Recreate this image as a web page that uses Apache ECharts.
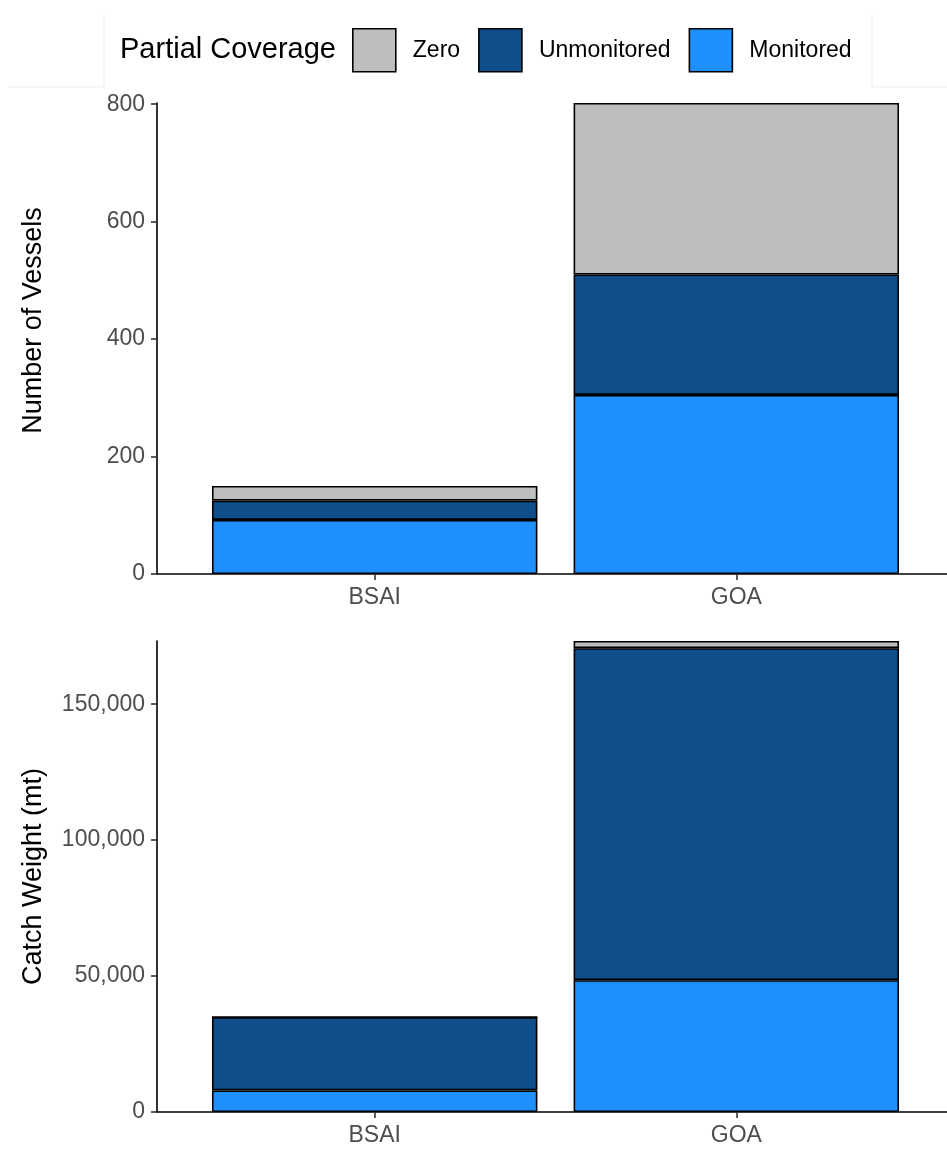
<!DOCTYPE html>
<html>
<head>
<meta charset="utf-8">
<script src="https://cdn.jsdelivr.net/npm/echarts@6/dist/echarts.min.js"></script>
<style>
  html, body { margin: 0; padding: 0; background: #fff; }
  #chart { width: 947px; height: 1151px; }
</style>
</head>
<body>
<div id="chart"></div>
<script>
    var regions = ['BSAI', 'GOA'];

    // number of vessels
    var vesselsMonitored = [92, 305];
    var vesselsUnmonitored = [33, 205];
    var vesselsZero = [25, 292];
    var vesselTicks = [0, 200, 400, 600, 800];

    // catch weight (mt)
    var catchMonitored = [7950, 48500];
    var catchUnmonitored = [26950, 122100];
    var catchZero = [0, 2650];
    var catchTicks = [0, 50000, 100000, 150000];

    var colors = { Zero: '#BEBEBE', Unmonitored: '#104E8B', Monitored: '#1E90FF' };
    var FONT = 'Liberation Sans, Arial';

    // grids 0 and 2 hold the bars (category axis, like ggplot's 0.6 expansion)
    // grids 1 and 3 are the full-width frames with the axis lines and y labels
    function barSeries(name, vals, g) {
        return {
            name: name,
            type: 'bar',
            stack: 'cov' + g,
            xAxisIndex: g,
            yAxisIndex: g,
            barWidth: '90%',
            data: vals,
            itemStyle: { color: colors[name], borderColor: '#000', borderWidth: 1.6 },
            emphasis: { disabled: true }
        };
    }

    function barX(g) {
        return {
            gridIndex: g,
            type: 'category',
            data: regions,
            axisLine: { show: false },
            axisTick: { show: true, alignWithLabel: true, length: 6, lineStyle: { color: '#333', width: 1.6 } },
            axisLabel: { margin: 12, fontSize: 23, color: '#4d4d4d', fontFamily: FONT }
        };
    }

    function frameX(g) {
        return {
            gridIndex: g,
            type: 'value',
            min: 0,
            max: 1,
            splitLine: { show: false },
            axisTick: { show: false },
            axisLabel: { show: false },
            axisLine: { show: true, lineStyle: { color: '#000', width: 1.6 } }
        };
    }

    function barY(g, max) {
        return { gridIndex: g, type: 'value', min: 0, max: max, show: false, splitLine: { show: false } };
    }

    function frameY(g, max, ticks, title, pad) {
        return {
            gridIndex: g,
            type: 'value',
            min: 0,
            max: max,
            name: title,
            nameLocation: 'middle',
            nameGap: 110,
            nameTextStyle: { fontSize: 27, color: '#000', fontFamily: FONT, padding: pad },
            splitLine: { show: false },
            axisLine: { show: true, lineStyle: { color: '#000', width: 1.6 } },
            axisTick: { show: true, customValues: ticks, length: 6, lineStyle: { color: '#333', width: 1.6 } },
            axisLabel: {
                customValues: ticks,
                margin: 12,
                fontSize: 23,
                color: '#4d4d4d',
                fontFamily: FONT,
                formatter: function (v) { return v.toLocaleString('en-US'); }
            }
        };
    }

    var option = {
        animation: false,
        backgroundColor: '#fff',
        graphic: [
            {
                type: 'text',
                left: 120,
                top: 35,
                style: { text: 'Partial Coverage', fontSize: 29, fill: '#000', fontFamily: FONT }
            },
            // faint edge of the legend box
            {
                type: 'polyline',
                silent: true,
                shape: { points: [[8, 87], [104, 87], [104, 13]] },
                style: { stroke: '#ededed', lineWidth: 1, fill: null }
            },
            {
                type: 'polyline',
                silent: true,
                shape: { points: [[872, 13], [872, 87], [947, 87]] },
                style: { stroke: '#ededed', lineWidth: 1, fill: null }
            }
        ],
        legend: {
            left: 352,
            top: 28,
            padding: 0,
            itemWidth: 43,
            itemHeight: 43,
            itemGap: 18,
            icon: 'rect',
            data: ['Zero', 'Unmonitored', 'Monitored'],
            itemStyle: { borderColor: '#000', borderWidth: 1.6 },
            textStyle: { fontSize: 23, color: '#000', padding: [0, 0, 0, 12], fontFamily: FONT }
        },
        grid: [
            { left: 193.9, top: 103, width: 723.2, height: 471 },
            { left: 157, top: 103, width: 796, height: 471 },
            { left: 193.9, top: 641, width: 723.2, height: 471 },
            { left: 157, top: 641, width: 796, height: 471 }
        ],
        xAxis: [barX(0), frameX(1), barX(2), frameX(3)],
        yAxis: [
            barY(0, 802),
            frameY(1, 802, vesselTicks, 'Number of Vessels', [0, 0, 0, 36]),
            barY(2, 173250),
            frameY(3, 173250, catchTicks, 'Catch Weight (mt)', 0)
        ],
        series: [
            barSeries('Monitored', vesselsMonitored, 0),
            barSeries('Unmonitored', vesselsUnmonitored, 0),
            barSeries('Zero', vesselsZero, 0),
            barSeries('Monitored', catchMonitored, 2),
            barSeries('Unmonitored', catchUnmonitored, 2),
            barSeries('Zero', catchZero, 2)
        ]
    };

    var myChart = echarts.init(document.getElementById('chart'));
    myChart.setOption(option);
</script>
</body>
</html>
